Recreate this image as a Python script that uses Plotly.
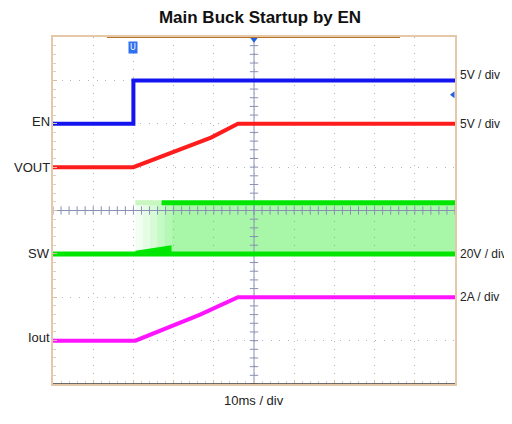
import numpy as np
import plotly.graph_objects as go

# time in divisions (10 ms / div), levels in vertical divisions (0 = screen centre)
t_en = [0, 2, 2, 10]
en = [2, 2, 3, 3]

t_vout = [0, 2, 3.93, 4.6, 10]
vout = [1, 1, 1.68, 2, 2]

t_iout = [0, 2.05, 3.66, 4.6, 10]
iout = [-3, -3, -2.4, -2, -2]

t_sw = [0, 10]
sw_low = [-1, -1]
sw_start = 2.05      # switching begins
sw_full = 2.95       # full-amplitude switching
sw_high = 0.18       # top of switching envelope
sw_soft = -0.8       # top of soft-start wedge

left_labels = ["EN", "VOUT", "SW", "Iout"]
left_y = [2.05, 1, -1, -2.93]
right_labels = ["5V / div", "5V / div", "20V / div", "2A / div"]
right_y = [3.13, 2, -1, -2]

BLUE = "#1414f0"
RED = "#ff1c1c"
GREEN = "#00e600"
MAGENTA = "#ff14ff"
FILL = "rgba(0,232,0,0.34)"
GRID = "#b4b4bc"
CENTRE = "#8a90b4"

fig = go.Figure()

# SW switching envelope: fade-in part
steps = 5
fade = [0.05, 0.1, 0.16, 0.23, 0.29]
edges = np.linspace(sw_start, sw_full, steps + 1)
for i in range(steps):
    fig.add_trace(go.Scatter(x=[edges[i], edges[i + 1], edges[i + 1], edges[i], edges[i]],
                             y=[sw_low[0], sw_low[0], sw_high, sw_high, sw_low[0]],
                             fill="toself", fillcolor=f"rgba(0,232,0,{fade[i]})", mode="lines",
                             line=dict(width=0), hoverinfo="skip", showlegend=False))
# full envelope
fig.add_trace(go.Scatter(x=[sw_full, t_sw[1], t_sw[1], sw_full, sw_full],
                         y=[sw_low[0], sw_low[1], sw_high, sw_high, sw_low[0]],
                         fill="toself", fillcolor=FILL, mode="lines", line=dict(width=0),
                         hoverinfo="skip", showlegend=False))

# centre cross with minor ticks (drawn over the envelope)
fig.add_trace(go.Scatter(x=[0, 10], y=[0, 0], mode="lines", line=dict(color=CENTRE, width=1),
                         hoverinfo="skip", showlegend=False))
fig.add_trace(go.Scatter(x=[5, 5], y=[-4, 4], mode="lines", line=dict(color=CENTRE, width=1),
                         hoverinfo="skip", showlegend=False))
mt = np.arange(0, 10.01, 0.2)
fig.add_trace(go.Scatter(x=mt, y=np.zeros_like(mt), mode="markers",
                         marker=dict(symbol="line-ns", size=6, line=dict(color=CENTRE, width=1)),
                         hoverinfo="skip", showlegend=False))
mv = np.arange(-4, 4.01, 0.2)
fig.add_trace(go.Scatter(x=np.full_like(mv, 5), y=mv, mode="markers",
                         marker=dict(symbol="line-ew", size=6, line=dict(color=CENTRE, width=1)),
                         hoverinfo="skip", showlegend=False))

# top edge of envelope
fig.add_trace(go.Scatter(x=[sw_start, 2.7], y=[sw_high, sw_high], mode="lines",
                         line=dict(color="#c8f8c0", width=5), showlegend=False))
fig.add_trace(go.Scatter(x=[2.7, t_sw[1]], y=[sw_high, sw_high], mode="lines",
                         line=dict(color=GREEN, width=5), showlegend=False))
# soft-start wedge
fig.add_trace(go.Scatter(x=[sw_start, sw_full, sw_full, sw_start, sw_start],
                         y=[sw_low[0], sw_low[0], sw_soft, -0.93, sw_low[0]],
                         fill="toself", fillcolor=GREEN, mode="lines", line=dict(width=0, color=GREEN),
                         showlegend=False))
# SW baseline
fig.add_trace(go.Scatter(x=t_sw, y=sw_low, mode="lines", line=dict(color=GREEN, width=5), showlegend=False))

fig.add_trace(go.Scatter(x=t_en, y=en, mode="lines", line=dict(color=BLUE, width=4), showlegend=False))
fig.add_trace(go.Scatter(x=t_vout, y=vout, mode="lines", line=dict(color=RED, width=4), showlegend=False))
fig.add_trace(go.Scatter(x=t_iout, y=iout, mode="lines", line=dict(color=MAGENTA, width=4), showlegend=False))

# scope markers
fig.add_trace(go.Scatter(x=[5], y=[3.95], mode="markers",
                         marker=dict(symbol="triangle-down", size=7, color="#2060e0"), showlegend=False))
fig.add_trace(go.Scatter(x=[9.95], y=[2.67], mode="markers",
                         marker=dict(symbol="triangle-left", size=6, color="#2060e0"), showlegend=False))
fig.add_annotation(x=2, y=3.76, xref="x", yref="y", text="U", showarrow=False,
                   font=dict(size=8, color="white", family="DejaVu Sans"),
                   bgcolor="#3070f0", borderpad=1)

# record bar on top edge
fig.add_shape(type="line", x0=1.34, x1=8.63, y0=4, y1=4, line=dict(color="#b8742c", width=2))
# bottom edge
fig.add_shape(type="line", x0=0, x1=10, y0=-4.02, y1=-4.02, line=dict(color="#3c3c3c", width=3))

font = "Liberation Sans, Arial"
for txt, yy in zip(left_labels, left_y):
    fig.add_annotation(x=0, y=yy, xref="x", yref="y", text=txt, showarrow=False,
                       xanchor="right", xshift=-1, font=dict(size=13, color="#222"))
for txt, yy in zip(right_labels, right_y):
    fig.add_annotation(x=10, y=yy, xref="x", yref="y", text=txt, showarrow=False,
                       xanchor="left", xshift=3, font=dict(size=12, color="#222"))
fig.add_annotation(x=0.5, y=-0.075, xref="paper", yref="paper", text="10ms / div", showarrow=False,
                   font=dict(size=13, color="#222"))

fig.update_layout(
    width=504, height=416,
    margin=dict(l=45, r=57, t=29, b=40),
    paper_bgcolor="white", plot_bgcolor="white",
    font=dict(family=font),
    title=dict(text="<b>Main Buck Startup by EN</b>", x=0.5, xanchor="center",
               y=1 - 9 / 416, yanchor="middle", font=dict(size=17, color="#111", family=font)),
)
fig.update_xaxes(range=[0, 10], dtick=1, showticklabels=False, showgrid=True,
                 gridcolor=GRID, griddash="1px,7px", gridwidth=1, zeroline=False,
                 showline=True, linecolor="#e4c8a8", linewidth=2, mirror=True,
                 ticks="inside", ticklen=4, tickcolor="#d8c0a8",
                 minor=dict(dtick=0.2, ticks="inside", ticklen=3, tickcolor="#d8d0d0"))
fig.update_yaxes(range=[-4, 4], dtick=1, showticklabels=False, showgrid=True,
                 gridcolor=GRID, griddash="1px,7.7px", gridwidth=1, zeroline=False,
                 showline=True, linecolor="#e4c8a8", linewidth=2, mirror=True,
                 ticks="inside", ticklen=4, tickcolor="#d8c0a8",
                 minor=dict(dtick=0.2, ticks="inside", ticklen=3, tickcolor="#d8d0d0"))

fig.write_html("out.html")
